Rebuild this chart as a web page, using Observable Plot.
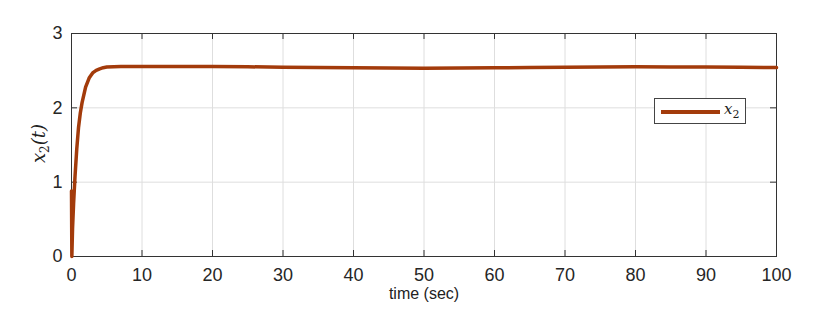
<!DOCTYPE html>
<html><head><meta charset="utf-8">
<script src="https://cdn.jsdelivr.net/npm/d3@7"></script>
<script src="https://cdn.jsdelivr.net/npm/@observablehq/plot@0.6"></script>
<style>
body{margin:0;background:#fff;}
#wrap{position:relative;width:830px;height:317px;font-family:"Liberation Sans",Arial,sans-serif;}
#legend{position:absolute;left:654px;top:98px;width:92px;height:26px;border:1px solid #444;background:#fff;box-sizing:border-box;}
#legend .ln{position:absolute;left:6px;top:11px;width:59px;height:3.5px;background:#a33b0b;}
#legend .tx{position:absolute;left:69px;top:1px;font-family:"DejaVu Serif",serif;font-style:italic;font-size:15px;color:#222;}
.lab{position:absolute;color:#222;}
</style></head>
<body><div id="wrap"></div>
<script>
const time = [0, 0.05, 0.15, 0.3, 0.5, 0.75, 1, 1.25, 1.5, 2, 2.5, 3, 3.5, 4, 4.5, 5, 6, 7, 8, 10, 15, 20, 25, 30, 35, 40, 45, 50, 55, 60, 65, 70, 75, 80, 85, 90, 95, 100];
const x2 = [0.88, 0.0, 0.38, 0.72, 1.08, 1.45, 1.74, 1.93, 2.07, 2.28, 2.4, 2.47, 2.505, 2.525, 2.54, 2.548, 2.553, 2.555, 2.556, 2.557, 2.557, 2.556, 2.552, 2.547, 2.542, 2.538, 2.535, 2.534, 2.535, 2.538, 2.543, 2.547, 2.55, 2.552, 2.551, 2.549, 2.545, 2.541];
const xTicks = [0,10,20,30,40,50,60,70,80,90,100];
const yTicks = [0,1,2,3];
const data = time.map((t,i)=>({t, v:x2[i]}));
const W = 830, H = 317, ML = 71, MR = 54, MT = 33, MB = 61;
const pw = W - ML - MR, ph = H - MT - MB, tk = 6;

const chart = Plot.plot({
  width: W, height: H,
  marginLeft: ML, marginRight: MR, marginTop: MT, marginBottom: MB,
  style: {fontFamily: '"Liberation Sans", Arial, sans-serif', fontSize: "18px", color: "#262626", background: "#fff"},
  x: {domain: [0,100]},
  y: {domain: [0,3]},
  marks: [
    Plot.gridX(xTicks, {stroke: "#dedede", strokeOpacity: 1}),
    Plot.gridY(yTicks, {stroke: "#dedede", strokeOpacity: 1}),
    Plot.tickX(xTicks, {x: d => d, insetTop: ph - tk, stroke: "#333"}),
    Plot.tickX(xTicks, {x: d => d, insetBottom: ph - tk, stroke: "#333"}),
    Plot.tickY(yTicks, {y: d => d, insetRight: pw - tk, stroke: "#333"}),
    Plot.tickY(yTicks, {y: d => d, insetLeft: pw - tk, stroke: "#333"}),
    Plot.frame({stroke: "#333", strokeWidth: 1}),
    Plot.axisX(xTicks, {anchor: "bottom", tickSize: 0, tickPadding: 12, label: null}),
    Plot.axisY(yTicks, {anchor: "left", tickSize: 0, tickPadding: 9, tickFormat: "d", label: null}),
    Plot.line(data, {x: "t", y: "v", stroke: "#a33b0b", strokeWidth: 3.5, strokeLinejoin: "round"})
  ]
});
const wrap = document.getElementById("wrap");
wrap.appendChild(chart);
const lg = document.createElement("div");
lg.id = "legend";
lg.innerHTML = '<div class="ln"></div><div class="tx">x<span style="font-size:11px;font-style:normal;position:relative;top:4px">2</span></div>';
wrap.appendChild(lg);
const xl = document.createElement("div");
xl.className = "lab";
xl.style.cssText = "left:364px;top:285px;width:120px;text-align:center;font-size:16px;";
xl.textContent = "time (sec)";
wrap.appendChild(xl);
const yl = document.createElement("div");
yl.className = "lab";
yl.style.cssText = "left:-2px;top:133px;width:80px;text-align:center;font-family:'DejaVu Serif',serif;font-style:italic;font-size:18px;transform:rotate(-90deg);";
yl.innerHTML = 'x<span style="font-size:12px;font-style:normal;position:relative;top:4px">2</span>(t)';
wrap.appendChild(yl);
</script></body></html>
